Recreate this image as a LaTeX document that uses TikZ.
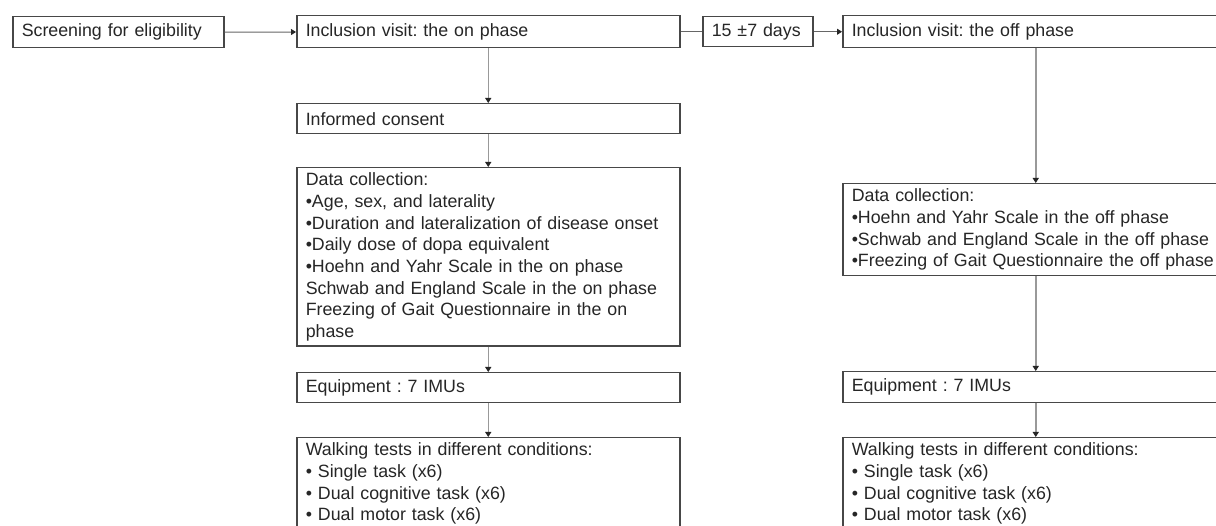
\documentclass[tikz,border=0pt]{standalone}
\usepackage{fontspec}
\setmainfont{Liberation Sans}
\usepackage{tikz}
\usetikzlibrary{arrows.meta,positioning}
\frenchspacing

\begin{document}
\begin{tikzpicture}[x=1pt,y=-1pt,font=\fontsize{17.8pt}{21.7pt}\selectfont,
  box/.style={draw=black!72,line width=1.5pt,anchor=north west,align=left,inner xsep=9pt,inner ysep=5pt,text=black!85},
  hconn/.style={draw=black!60,line width=1pt},
  vconn/.style={draw=black!40,line width=1.5pt},
  tip/.style={-{Triangle[width=6pt,length=5pt,color=black!85]}}]
  \useasboundingbox (0,0) rectangle (1216,526);
  \fill[white] (0,0) rectangle (1216,526);
  \clip (0,0) rectangle (1216,526);
  % top row
  \node[box,text width=193pt,minimum height=31pt] (screen) at (12,16) {Screening for eligibility};
  \node[box,text width=365pt,minimum height=32pt] (incOn) at (296,15) {Inclusion visit: the on phase};
  \node[box,text width=92pt,minimum height=30pt] (days) at (702,16) {15 ±7 days};
  \node[box,text width=368pt,minimum height=32pt] (incOff) at (842,15) {Inclusion visit: the off phase};
  % on phase column
  \node[box,text width=365pt,minimum height=30pt] (consent) at (296,103) {Informed consent};
  \node[box,text width=365pt] (dataOn) at (296,167) {Data collection:\\
    •Age, sex, and laterality\\
    •Duration and lateralization of disease onset\\
    •Daily dose of dopa equivalent\\
    •Hoehn and Yahr Scale in the on phase\\
    Schwab and England Scale in the on phase\\
    Freezing of Gait Questionnaire in the on\\
    phase};
  \node[box,text width=365pt,minimum height=30pt] (equipOn) at (296,372) {Equipment : 7 IMUs};
  \node[box,text width=365pt] (walkOn) at (296,437) {Walking tests in different conditions:\\
    • Single task (x6)\\
    • Dual cognitive task (x6)\\
    • Dual motor task (x6)};
  % off phase column
  \node[box,text width=368pt] (dataOff) at (842,183) {Data collection:\\
    •Hoehn and Yahr Scale in the off phase\\
    •Schwab and England Scale in the off phase\\
    •Freezing of Gait Questionnaire the off phase};
  \node[box,text width=368pt,minimum height=31pt] (equipOff) at (842,371) {Equipment : 7 IMUs};
  \node[box,text width=368pt] (walkOff) at (842,437) {Walking tests in different conditions:\\
    • Single task (x6)\\
    • Dual cognitive task (x6)\\
    • Dual motor task (x6)};
  % connectors
  \draw[hconn,tip] (screen) -- (incOn);
  \draw[hconn] (incOn) -- (days);
  \draw[hconn,tip] (days) -- (incOff);
  \draw[vconn,tip] (incOn) -- (consent);
  \draw[vconn,tip] (consent) -- (dataOn);
  \draw[vconn,tip] (dataOn) -- (equipOn);
  \draw[vconn,tip] (equipOn) -- (walkOn);
  \draw[vconn,tip] (incOff) -- (dataOff);
  \draw[vconn,tip] (dataOff) -- (equipOff);
  \draw[vconn,tip] (equipOff) -- (walkOff);
\end{tikzpicture}
\end{document}
